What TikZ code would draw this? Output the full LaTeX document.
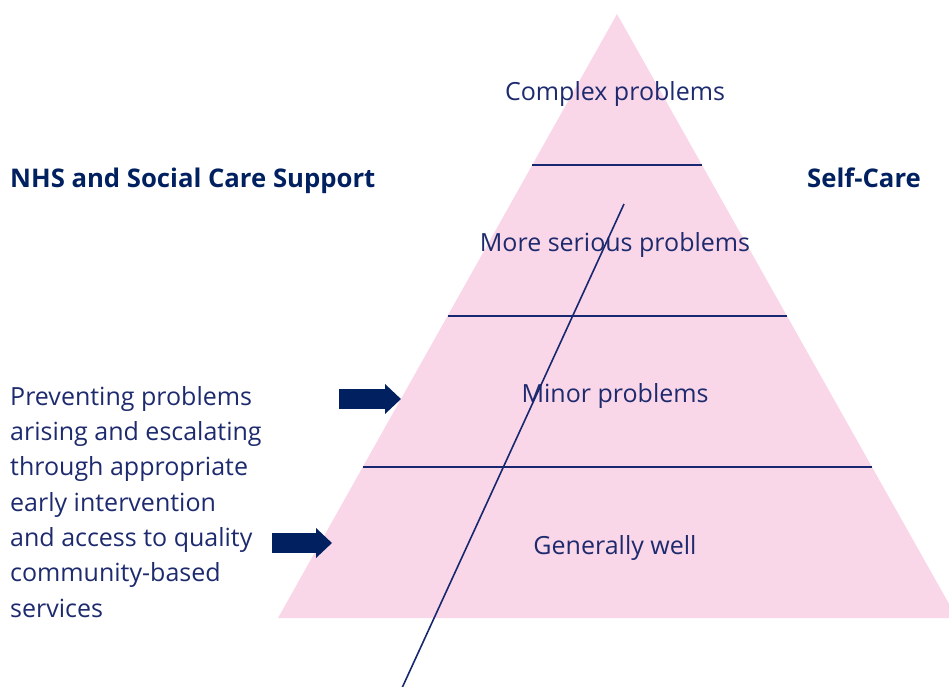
\documentclass[tikz,border=0pt]{standalone}
\usepackage{fontspec}
\setmainfont{Open Sans}
\usepackage{xcolor}
\usetikzlibrary{arrows.meta,positioning,calc}

\definecolor{nhsnavy}{RGB}{0,32,96}
\definecolor{textnavy}{RGB}{30,42,110}
\definecolor{linenavy}{RGB}{24,40,112}
\definecolor{pyrpink}{RGB}{249,215,232}

\begin{document}
\begin{tikzpicture}[x=1pt, y=-1pt,
    level/.style={font=\fontsize{25}{35.3}\selectfont, text=textnavy, inner sep=0pt},
    heading/.style={font=\fontsize{25.7}{30}\selectfont\bfseries, text=nhsnavy, inner sep=0pt},
    divider/.style={draw=linenavy, line width=1.2pt},
    pointer/.style={draw=nhsnavy, line width=20pt, -{Triangle[width=29pt, length=16pt]}}
]
    \useasboundingbox (0,0) rectangle (949,686);
    \clip (0,0) rectangle (949,686);

    % Pyramid
    \coordinate (apex) at (617,14);
    \coordinate (baseL) at (278,618);
    \coordinate (baseR) at (957,618);
    \fill[pyrpink] (apex) -- (baseR) -- (baseL) -- cycle;

    % Level dividers
    \foreach \f in {0.25,0.5,0.75}
        \draw[divider] ($(apex)!\f!(baseL)$) -- ($(apex)!\f!(baseR)$);

    % Level labels
    \node[level, anchor=base] (complex) at (615,100) {Complex problems};
    \node[level, anchor=base] (serious) at (615,251) {More serious problems};
    \node[level, anchor=base] (minor) at (615,402) {Minor problems};
    \node[level, anchor=base] (well) at (615,554) {Generally well};

    % Self-care slash
    \coordinate (slashTop) at (624,204);
    \coordinate (slashBot) at (402,688);
    \draw[draw=linenavy, line width=1.6pt] (slashTop) -- (slashBot);

    % Headings
    \node[heading, anchor=base west] (nhs) at (10,187) {NHS and Social Care Support};
    \node[heading, anchor=base west] (selfcare) at (807,187) {Self-Care};

    % Prevention text (base is its last line)
    \node[level, anchor=base west, align=left] (prevent) at (10,617)
        {Preventing problems\\arising and escalating\\through appropriate\\early intervention\\and access to quality\\community-based\\services};

    % Pointers
    \coordinate (ptrA) at (339,399);
    \coordinate (ptrAtip) at (401,399);
    \coordinate (ptrB) at (272,543);
    \coordinate (ptrBtip) at (332,543);
    \draw[pointer] (ptrA) -- (ptrAtip);
    \draw[pointer] (ptrB) -- (ptrBtip);

\end{tikzpicture}
\end{document}
